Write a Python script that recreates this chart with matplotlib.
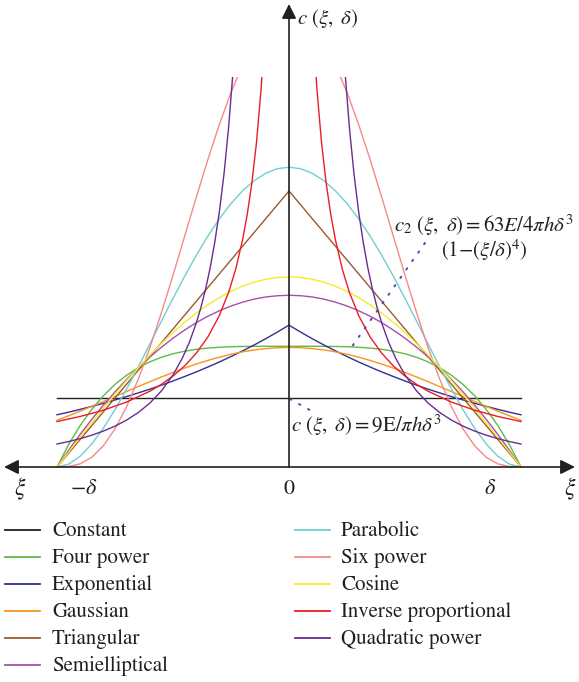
import numpy as np
import matplotlib
matplotlib.use("Agg")
import matplotlib.pyplot as plt
from matplotlib.lines import Line2D
from matplotlib.patches import Rectangle

plt.rcParams['font.family'] = ['STIXGeneral', 'DejaVu Serif']
plt.rcParams['mathtext.fontset'] = 'stix'

# ---------------- data (half profiles, xi/delta >= 0; curves are symmetric) ----
xi_half = [0.00, 0.05, 0.10, 0.15, 0.20, 0.25, 0.30, 0.35, 0.40, 0.45, 0.50,
           0.55, 0.60, 0.65, 0.70, 0.75, 0.80, 0.85, 0.90, 0.95, 1.00]

constant = [9.0] * 21
four_power = [15.75, 15.75, 15.75, 15.74, 15.72, 15.69, 15.62, 15.51, 15.35, 15.10, 14.77,
              14.31, 13.71, 12.94, 11.97, 10.77, 9.30, 7.53, 5.42, 2.92, 0.00]
exponential = [18.50, 17.60, 16.74, 15.92, 15.15, 14.41, 13.70, 13.04, 12.40, 11.80, 11.22,
               10.67, 10.15, 9.66, 9.19, 8.74, 8.31, 7.91, 7.52, 7.15, 6.81]
gaussian = [15.60, 15.56, 15.45, 15.27, 15.02, 14.71, 14.33, 13.90, 13.42, 12.90, 12.33,
            11.74, 11.12, 10.49, 9.84, 9.19, 8.55, 7.91, 7.28, 6.68, 6.09]
triangular = [36.0, 34.2, 32.4, 30.6, 28.8, 27.0, 25.2, 23.4, 21.6, 19.8, 18.0,
              16.2, 14.4, 12.6, 10.8, 9.0, 7.2, 5.4, 3.6, 1.8, 0.0]
semielliptical = [22.40, 22.34, 22.18, 21.90, 21.50, 21.00, 20.38, 19.66, 18.82, 17.86, 16.80,
                  15.62, 14.34, 12.94, 11.42, 9.80, 8.06, 6.22, 4.26, 2.18, 0.00]
parabolic = [39.10, 38.91, 38.32, 37.36, 36.03, 34.37, 32.38, 30.11, 27.59, 24.87, 21.99,
             19.02, 16.02, 13.04, 10.17, 7.48, 5.07, 3.01, 1.41, 0.37, 0.00]
six_power = [59.30, 58.86, 57.54, 55.39, 52.46, 48.86, 44.69, 40.07, 35.15, 30.08, 25.02,
             20.12, 15.54, 11.42, 7.87, 4.97, 2.77, 1.27, 0.41, 0.06, 0.00]
cosine = [24.80, 24.72, 24.49, 24.11, 23.59, 22.91, 22.10, 21.15, 20.06, 18.86, 17.54,
          16.11, 14.58, 12.96, 11.26, 9.49, 7.66, 5.79, 3.88, 1.95, 0.00]

xi_inverse = [0.10, 0.12, 0.14, 0.16, 0.18, 0.20, 0.23, 0.26, 0.30, 0.35, 0.40, 0.45, 0.50,
              0.55, 0.60, 0.70, 0.80, 0.90, 1.00]
inverse = [59.30, 49.42, 42.36, 37.06, 32.94, 29.65, 25.78, 22.81, 19.77, 16.94, 14.83, 13.18,
           11.86, 10.78, 9.88, 8.47, 7.41, 6.59, 5.93]
xi_quadratic = [0.20, 0.22, 0.24, 0.26, 0.28, 0.30, 0.32, 0.34, 0.36, 0.38, 0.40, 0.43,
                0.46, 0.50, 0.55, 0.60, 0.65, 0.70, 0.75, 0.80, 0.85, 0.90, 0.95, 1.00]
quadratic = [75.00, 61.98, 52.08, 44.38, 38.27, 33.33, 29.30, 25.95, 23.15, 20.78, 18.75, 16.22,
             14.18, 12.00, 9.92, 8.33, 7.10, 6.12, 5.33, 4.69, 4.15, 3.70, 3.32, 3.00]

names_left = ["Constant", "Four power", "Exponential", "Gaussian", "Triangular", "Semielliptical"]
names_right = ["Parabolic", "Six power", "Cosine", "Inverse proportional", "Quadratic power"]

colors = {
    "Constant": "#231f20",
    "Four power": "#5dbb46",
    "Exponential": "#2e3192",
    "Gaussian": "#f7941d",
    "Triangular": "#9a5b2e",
    "Semielliptical": "#a74fae",
    "Parabolic": "#6fcfd0",
    "Six power": "#f58a85",
    "Cosine": "#f5eb2a",
    "Inverse proportional": "#ed1c24",
    "Quadratic power": "#6a2c91",
}

# ---------------- figure ----------------------------------------------------
W, H = 579, 682
fig = plt.figure(figsize=(W / 100, H / 100), dpi=100)
ax = fig.add_axes([0, 0, 1, 1])
ax.axis("off")

CX, DX, AXY, UNIT = 289.0, 232.0, 467.0, 69.0 / 9.0
ax.set_xlim((0 - CX) / DX, (W - CX) / DX)
ax.set_ylim((AXY - H) / UNIT, AXY / UNIT)


def px(x, y):
    return (x - CX) / DX, (AXY - y) / UNIT


def full(xs, vs):
    xs = np.asarray(xs, float)
    vs = np.asarray(vs, float)
    return np.concatenate([-xs[::-1], xs[1:]]), np.concatenate([vs[::-1], vs[1:]])


def split(xs, vs):
    xs = np.asarray(xs, float)
    vs = np.asarray(vs, float)
    return (np.concatenate([-xs[::-1], [np.nan], xs]),
            np.concatenate([vs[::-1], [np.nan], vs]))


cap = px(0, 77)[1]
clip = Rectangle((-1.2, -5), 2.4, cap + 5, transform=ax.transData)

series = [
    ("Constant", full(xi_half, constant)),
    ("Four power", full(xi_half, four_power)),
    ("Exponential", full(xi_half, exponential)),
    ("Gaussian", full(xi_half, gaussian)),
    ("Triangular", full(xi_half, triangular)),
    ("Semielliptical", full(xi_half, semielliptical)),
    ("Parabolic", full(xi_half, parabolic)),
    ("Six power", full(xi_half, six_power)),
    ("Cosine", full(xi_half, cosine)),
    ("Inverse proportional", split(xi_inverse, inverse)),
    ("Quadratic power", split(xi_quadratic, quadratic)),
]
for name, (xs, ys) in series:
    ln, = ax.plot(xs, ys, color=colors[name], lw=1.0, solid_joinstyle="round")
    ln.set_clip_path(clip)

# ---------------- axes with arrows ----------------------------------------------
ax.annotate("", xy=px(4, AXY), xytext=px(575, AXY),
            arrowprops=dict(arrowstyle="<|-|>", color="#231f20", lw=1.2,
                            mutation_scale=22, shrinkA=0, shrinkB=0))
ax.annotate("", xy=px(CX, 4), xytext=px(CX, AXY),
            arrowprops=dict(arrowstyle="-|>", color="#231f20", lw=1.2,
                            mutation_scale=22, shrinkA=0, shrinkB=0))

tc = "#231f20"
fs = 15
ax.text(*px(297, 18), r"$c\ (\xi,\ \delta)$", fontsize=fs, color=tc, ha="left", va="center")
ax.text(*px(20, 489), r"$\xi$", fontsize=fs + 2, color=tc, ha="center", va="center")
ax.text(*px(570, 489), r"$\xi$", fontsize=fs + 2, color=tc, ha="center", va="center")
ax.text(*px(84, 489), r"$-\delta$", fontsize=fs + 1, color=tc, ha="center", va="center")
ax.text(*px(289, 489), "0", fontsize=fs + 1, color=tc, ha="center", va="center")
ax.text(*px(490, 489), r"$\delta$", fontsize=fs + 1, color=tc, ha="center", va="center")

ax.text(*px(394, 225), r"$c_2\ (\xi,\ \delta) = 63E/4\pi h\delta^3$", fontsize=fs, color=tc,
        ha="left", va="center")
ax.text(*px(441, 250), r"$(1{-}(\xi/\delta)^4)$", fontsize=fs, color=tc, ha="left", va="center")
ax.text(*px(291, 425), r"$c\ (\xi,\ \delta) = 9\mathrm{E}/\pi h\delta^3$", fontsize=fs, color=tc,
        ha="left", va="center")

dot = dict(color="#4a4ab5", lw=1.4, linestyle=(0, (0.8, 4.5)), dash_capstyle="round")
x0, y0 = px(425, 243)
x1, y1 = px(351, 348)
ax.plot([x0, x1], [y0, y1], **dot)
x0, y0 = px(290, 399)
x1, y1 = px(315, 413)
ax.plot([x0, x1], [y0, y1], **dot)

# ---------------- legend -------------------------------------------------------
rows_left = [530, 557, 584, 611, 638, 665]
rows_right = [530, 557, 584, 611, 638]
lfs = 15
for name, yy in zip(names_left, rows_left):
    fig.add_artist(Line2D([5 / W, 40 / W], [1 - yy / H] * 2, color=colors[name], lw=1.3,
                          transform=fig.transFigure))
    fig.text(52 / W, 1 - (yy + 1) / H, name, fontsize=lfs, color=tc, ha="left", va="center")
for name, yy in zip(names_right, rows_right):
    fig.add_artist(Line2D([295 / W, 330 / W], [1 - yy / H] * 2, color=colors[name], lw=1.3,
                          transform=fig.transFigure))
    fig.text(341 / W, 1 - (yy + 1) / H, name, fontsize=lfs, color=tc, ha="left", va="center")

fig.savefig("out.png", dpi=100, facecolor="white")
